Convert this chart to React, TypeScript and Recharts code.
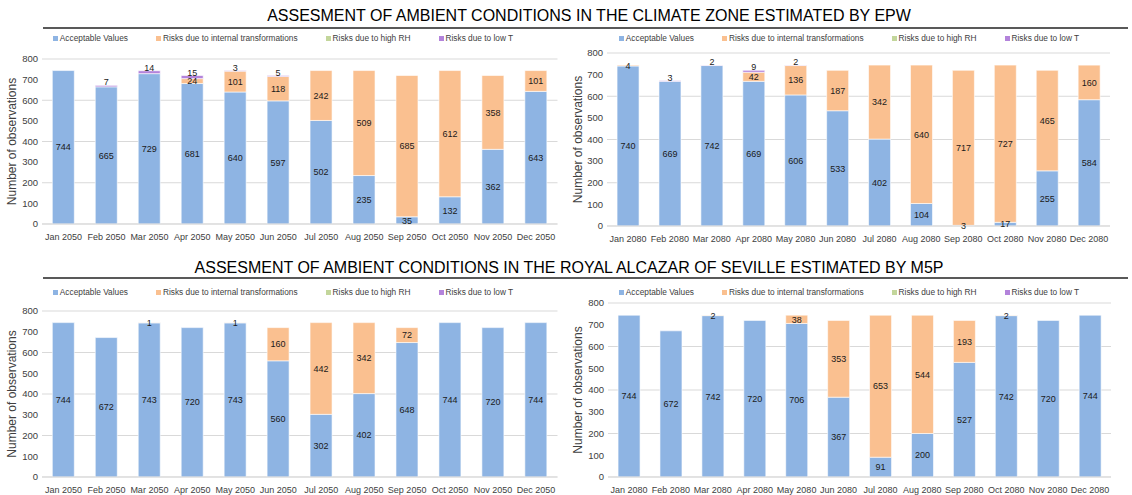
import React from 'react';
import { BarChart, Bar, XAxis, YAxis, CartesianGrid, Legend, LabelList } from 'recharts';

const FONT = '"Liberation Sans", Arial, sans-serif';

const seriesNames = ['Acceptable Values', 'Risks due to internal transformations', 'Risks due to high RH', 'Risks due to low T'];
const seriesColors = ['#8EB4E3', '#FAC090', '#C3D69B', '#B383DB'];

const months2050 = ['Jan 2050', 'Feb 2050', 'Mar 2050', 'Apr 2050', 'May 2050', 'Jun 2050', 'Jul 2050', 'Aug 2050', 'Sep 2050', 'Oct 2050', 'Nov 2050', 'Dec 2050'];
const months2080 = ['Jan 2080', 'Feb 2080', 'Mar 2080', 'Apr 2080', 'May 2080', 'Jun 2080', 'Jul 2080', 'Aug 2080', 'Sep 2080', 'Oct 2080', 'Nov 2080', 'Dec 2080'];

const yTicks = [0, 100, 200, 300, 400, 500, 600, 700, 800];
const minorTicks = [0, 20, 40, 60, 80, 100, 120, 140, 160, 180, 200, 220, 240, 260, 280, 300, 320, 340, 360, 380, 400, 420, 440, 460, 480, 500, 520, 540, 560, 580, 600, 620, 640, 660, 680, 700, 720, 740, 760, 780, 800];

// EPW 2050
const epw2050Acceptable = [744, 665, 729, 681, 640, 597, 502, 235, 35, 132, 362, 643];
const epw2050Internal = [0, 0, 0, 24, 101, 118, 242, 509, 685, 612, 358, 101];
const epw2050HighRH = [0, 0, 0, 0, 0, 0, 0, 0, 0, 0, 0, 0];
const epw2050LowT = [0, 7, 14, 15, 3, 5, 0, 0, 0, 0, 0, 0];

// EPW 2080
const epw2080Acceptable = [740, 669, 742, 669, 606, 533, 402, 104, 3, 17, 255, 584];
const epw2080Internal = [4, 0, 0, 42, 136, 187, 342, 640, 717, 727, 465, 160];
const epw2080HighRH = [0, 0, 0, 0, 0, 0, 0, 0, 0, 0, 0, 0];
const epw2080LowT = [0, 3, 2, 9, 2, 0, 0, 0, 0, 0, 0, 0];

// M5P 2050
const m5p2050Acceptable = [744, 672, 743, 720, 743, 560, 302, 402, 648, 744, 720, 744];
const m5p2050Internal = [0, 0, 1, 0, 1, 160, 442, 342, 72, 0, 0, 0];
const m5p2050HighRH = [0, 0, 0, 0, 0, 0, 0, 0, 0, 0, 0, 0];
const m5p2050LowT = [0, 0, 0, 0, 0, 0, 0, 0, 0, 0, 0, 0];

// M5P 2080
const m5p2080Acceptable = [744, 672, 742, 720, 706, 367, 91, 200, 527, 742, 720, 744];
const m5p2080Internal = [0, 0, 2, 0, 38, 353, 653, 544, 193, 2, 0, 0];
const m5p2080HighRH = [0, 0, 0, 0, 0, 0, 0, 0, 0, 0, 0, 0];
const m5p2080LowT = [0, 0, 0, 0, 0, 0, 0, 0, 0, 0, 0, 0];

const title1 = 'ASSESMENT OF AMBIENT CONDITIONS IN THE CLIMATE ZONE ESTIMATED BY EPW';
const title2 = 'ASSESMENT OF AMBIENT CONDITIONS IN THE ROYAL ALCAZAR OF SEVILLE ESTIMATED BY M5P';

const fmt = (v: any) => (v ? v : '');

const minorGen = (args: any) => {
  const yAxis = args && args.yAxis;
  if (!yAxis || typeof yAxis.scale !== 'function') return [];
  return minorTicks.map((t) => yAxis.scale(t)).filter((v) => typeof v === 'number' && !isNaN(v));
};

const LegendRow = () => (
  <div style={{ height: 20, display: 'flex', justifyContent: 'center', alignItems: 'center', gap: 28, fontFamily: FONT, fontSize: 8.3, color: '#404040', whiteSpace: 'nowrap' }}>
    {seriesNames.map((n, i) => (
      <span key={n} style={{ display: 'flex', alignItems: 'center' }}>
        <span style={{ width: 5, height: 5, background: seriesColors[i], marginRight: 2, display: 'inline-block' }} />
        {n}
      </span>
    ))}
  </div>
);

const YTitle = (props: any) => {
  const vb = props.viewBox || {};
  const cx = vb.x + 12;
  const cy = vb.y + vb.height / 2;
  return (
    <text x={cx} y={cy} transform={`rotate(-90 ${cx} ${cy})`} textAnchor="middle" dominantBaseline="central" fontSize={12} fill="#404040" fontFamily={FONT}>
      Number of observations
    </text>
  );
};

type PanelProps = {
  months: string[];
  acc: number[];
  internal: number[];
  highRH: number[];
  lowT: number[];
  left: number;
  top: number;
  width: number;
  height: number;
  marginTop: number;
  marginRight: number;
  yWidth: number;
};

const labelStyle = { fontSize: 9, fill: '#1a1a1a', fontFamily: FONT };

const Panel = (p: PanelProps) => {
  const data = p.months.map((m, i) => ({ month: m, acc: p.acc[i], int: p.internal[i], rh: p.highRH[i], lowT: p.lowT[i] }));
  const keys = ['acc', 'int', 'rh', 'lowT'];
  return (
    <div style={{ position: 'absolute', left: p.left, top: p.top }}>
      <BarChart width={p.width} height={p.height} data={data} margin={{ top: p.marginTop, right: p.marginRight, bottom: 2, left: 0 }} barCategoryGap="24%">
        <CartesianGrid vertical={false} stroke="#efefef" strokeWidth={1} horizontalCoordinatesGenerator={minorGen} />
        <CartesianGrid vertical={false} stroke="#d9d9d9" strokeWidth={1} />
        <XAxis dataKey="month" height={20} tickLine={false} axisLine={{ stroke: '#d9d9d9' }} interval={0} tick={{ fontSize: 9, fill: '#404040', fontFamily: FONT }} tickMargin={4} />
        <YAxis width={p.yWidth} domain={[0, 800]} ticks={yTicks} tickLine={false} axisLine={false} tickSize={2} tickMargin={2} tick={{ fontSize: 9.5, fill: '#404040', fontFamily: FONT }} label={YTitle} />
        <Legend verticalAlign="top" align="center" wrapperStyle={{ top: 0, left: 0, width: 566 }} content={() => <LegendRow />} />
        {keys.map((k, i) => (
          <Bar key={k} dataKey={k} name={seriesNames[i]} stackId="a" fill={seriesColors[i]} stroke="#ffffff" strokeWidth={0.6} isAnimationActive={false}>
            {k === 'lowT' ? (
              <LabelList dataKey={k} position="top" offset={0} formatter={fmt} style={labelStyle} />
            ) : (
              <LabelList dataKey={k} position="center" formatter={fmt} style={labelStyle} />
            )}
          </Bar>
        ))}
      </BarChart>
    </div>
  );
};

const Title = ({ text, top, center }: { text: string; top: number; center: number }) => (
  <div style={{ position: 'absolute', top, left: center - 500, width: 1000, textAlign: 'center', fontFamily: FONT, fontSize: 16, color: '#000', whiteSpace: 'nowrap', lineHeight: '20px' }}>
    {text}
  </div>
);

export default function App() {
  return (
    <div style={{ position: 'absolute', left: 0, top: 0, width: 1132, height: 495, background: '#fff', overflow: 'hidden' }}>
      <Title text={title1} top={6} center={589} />
      <div style={{ position: 'absolute', left: 43, top: 27, width: 1085, height: 1.5, background: '#595959' }} />
      <Title text={title2} top={258} center={569} />
      <div style={{ position: 'absolute', left: 43, top: 277, width: 1085, height: 1.5, background: '#595959' }} />

      <Panel months={months2050} acc={epw2050Acceptable} internal={epw2050Internal} highRH={epw2050HighRH} lowT={epw2050LowT}
        left={0} top={28} width={566} height={218} marginTop={11} marginRight={8.5} yWidth={42} />
      <Panel months={months2080} acc={epw2080Acceptable} internal={epw2080Internal} highRH={epw2080HighRH} lowT={epw2080LowT}
        left={566} top={28} width={566} height={220} marginTop={5} marginRight={22} yWidth={41} />
      <Panel months={months2050} acc={m5p2050Acceptable} internal={m5p2050Internal} highRH={m5p2050HighRH} lowT={m5p2050LowT}
        left={0} top={282} width={566} height={217} marginTop={9} marginRight={8.5} yWidth={42} />
      <Panel months={months2080} acc={m5p2080Acceptable} internal={m5p2080Internal} highRH={m5p2080HighRH} lowT={m5p2080LowT}
        left={566} top={282} width={566} height={217} marginTop={1} marginRight={21} yWidth={42} />
    </div>
  );
}
